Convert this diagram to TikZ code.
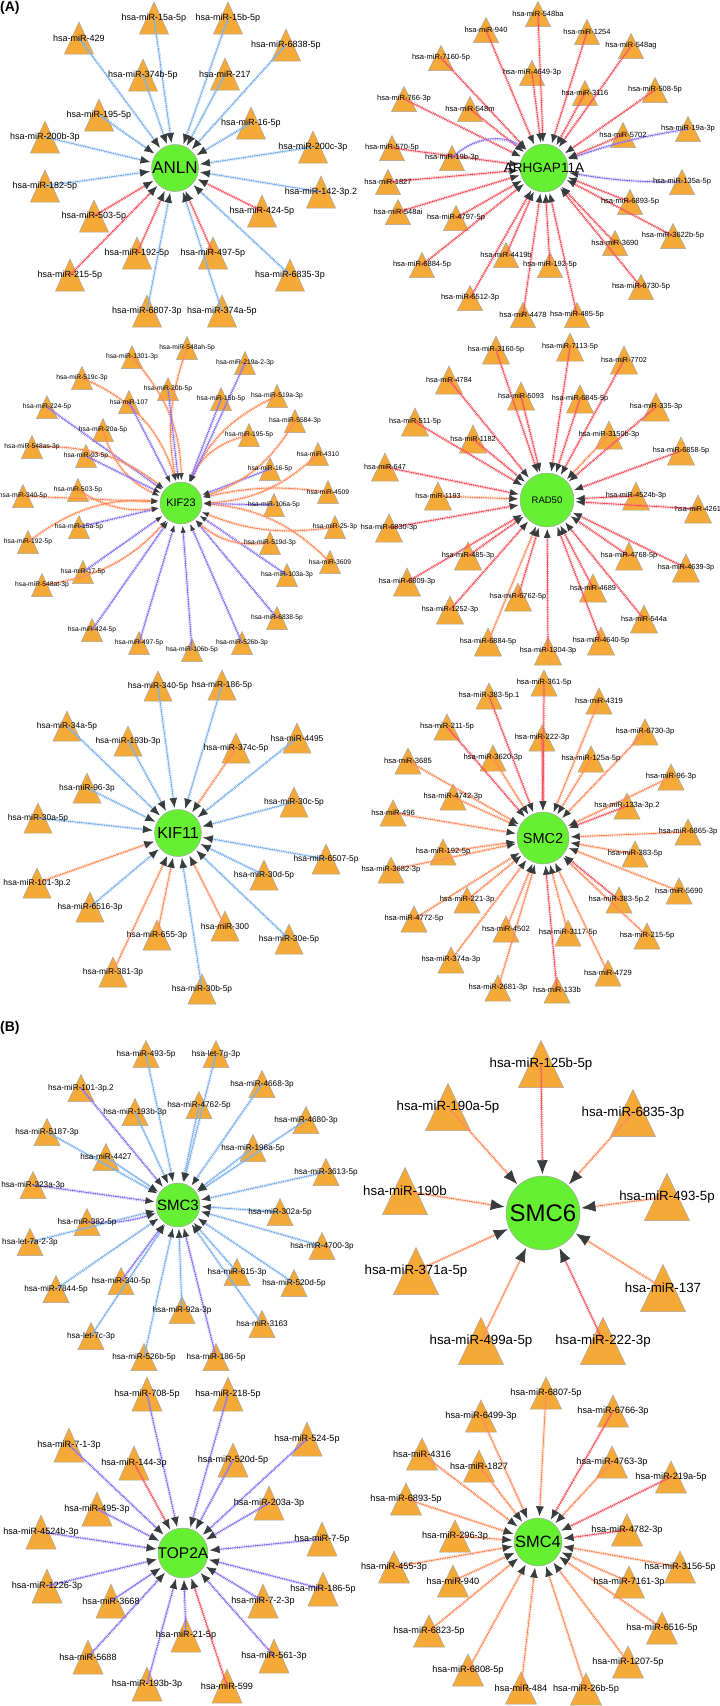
\documentclass[tikz,border=0pt]{standalone}
\usepackage{fontspec}
\setmainfont{Liberation Sans}
\usepackage{tikz}
\usepackage{xcolor}
\usetikzlibrary{arrows.meta}

\definecolor{mirorange}{RGB}{245,170,55}
\definecolor{mirgray}{RGB}{165,165,165}
\definecolor{hubgreen}{RGB}{102,240,51}
\definecolor{arrowgray}{RGB}{55,60,62}
\definecolor{ebl}{RGB}{120,175,235}
\definecolor{erd}{RGB}{245,80,90}
\definecolor{eor}{RGB}{255,135,85}
\definecolor{epu}{RGB}{135,110,245}
\tikzset{>=latex}

% triangle width, triangle height, label size, arrow length, arrow width
\newcommand{\netsize}[5]{\def\triw{#1}\def\trih{#2}\def\labsize{#3}\def\arrl{#4}\def\arrw{#5}}
% #1 hub name, #2 list x/y/colour/bend/label
\newcommand{\mirnet}[2]{%
  \foreach \x/\y/\col/\bnd/\lab [count=\idx] in {#2}{
    \coordinate (#1-\idx) at (\x,\y);
    \filldraw[mirtri] (\x,\y-\trih/2) -- (\x+\triw/2,\y+\trih/2)
      -- (\x-\triw/2,\y+\trih/2) -- cycle;
  }
  \foreach \x/\y/\col/\bnd/\lab [count=\idx] in {#2}{
    \draw[mirarrow=\col] (#1-\idx) to[bend left=\bnd] (#1);
  }
  \foreach \x/\y/\col/\bnd/\lab [count=\idx] in {#2}{
    \node[mirlab] (#1-l\idx) at (#1-\idx) {hsa-\lab};
  }
}

\begin{document}
\begin{tikzpicture}[x=1pt, y=-1pt,
    mirtri/.style={fill=mirorange, draw=mirgray, line width=0.5pt},
    mirlab/.style={inner sep=0pt, font=\fontsize{\labsize}{\labsize}\selectfont},
    hub/.style={circle, fill=hubgreen, draw=mirgray, line width=0.5pt, inner sep=0pt},
    hubtext/.style={inner sep=0pt},
    mirarrow/.style={draw=#1, line width=0.75pt,
      -{Latex[length=\arrl, width=\arrw, color=arrowgray]}, shorten >=1.5pt,
      preaction={draw=#1!85, -, line width=3pt, dash pattern=on 0.5pt off 1.3pt, shorten >=6pt}},
    tag/.style={anchor=north west, inner sep=0pt, font=\bfseries\fontsize{14}{14}\selectfont}]
  \fill[white] (0,0) rectangle (720,1706);
  \useasboundingbox (0,0) rectangle (720,1706);

  \node[tag] (taga) at (0,1) {(A)};
  \node[tag] (tagb) at (0,1021) {(B)};

  % ANLN
  \netsize{29}{32}{9}{10pt}{8pt}
  \node[hub, minimum size=47pt] (anln) at (175,168) {};
  \mirnet{anln}{154/18/ebl/0/miR-15a-5p, 228/18/ebl/0/miR-15b-5p, 79/38/ebl/0/miR-429,
    286/45/ebl/0/miR-6838-5p, 143/75/ebl/0/miR-374b-5p, 225/74/ebl/0/miR-217,
    99/115/ebl/0/miR-195-5p, 251/123/ebl/0/miR-16-5p, 45/137/ebl/0/miR-200b-3p,
    313/147/ebl/0/miR-200c-3p, 45/186/ebl/0/miR-182-5p, 321/192/ebl/0/miR-142-3p.2,
    94/216/erd/0/miR-503-5p, 262/211/erd/0/miR-424-5p, 137/253/erd/0/miR-192-5p,
    213/253/erd/0/miR-497-5p, 70/275/erd/0/miR-215-5p, 290/275/ebl/0/miR-6835-3p,
    147/311/ebl/0/miR-6807-3p, 222/311/ebl/0/miR-374a-5p}
  \node[hubtext, font=\fontsize{17}{17}\selectfont] (anln-t) at (anln) {ANLN};

  % ARHGAP11A
  \netsize{25}{25}{7.5}{9pt}{7pt}
  \node[hub, minimum size=48pt] (arh) at (544,168) {};
  \mirnet{arh}{538/14/erd/0/miR-548ba, 486/30/erd/0/miR-940, 587/32/erd/0/miR-1254,
    631/46/erd/0/miR-548ag, 441/58/erd/0/miR-7160-5p, 532/73/erd/0/miR-4649-3p,
    585/93/erd/0/miR-3116, 655/90/erd/0/miR-508-5p, 404/99/erd/0/miR-766-3p,
    470/109/erd/0/miR-548m, 688/129/epu/-5/miR-19a-3p, 623/135/erd/0/miR-5702,
    392/148/erd/0/miR-570-5p, 452/158/epu/40/miR-19b-3p, 388/182/erd/0/miR-1827,
    682/182/epu/5/miR-135a-5p, 630/202/erd/0/miR-6893-5p, 398/212/erd/0/miR-548ai,
    456/218/erd/0/miR-4797-5p, 673/236/erd/0/miR-3622b-5p, 615/243/erd/0/miR-3690,
    506/255/erd/0/miR-4419b, 550/265/erd/0/miR-192-5p, 422/265/erd/0/miR-6884-5p,
    641/287/erd/0/miR-6730-5p, 470/298/erd/0/miR-6512-3p, 523/315/erd/0/miR-4478,
    577/315/erd/0/miR-485-5p}
  \node[hubtext, font=\fontsize{13.5}{13.5}\selectfont] (arh-t) at (arh) {ARHGAP11A};

  % KIF23
  \netsize{21}{23}{6.7}{7pt}{5pt}
  \node[hub, minimum size=42pt] (kif23) at (181,503) {};
  \mirnet{kif23}{132/357/eor/20/miR-1301-3p, 187/348/eor/-15/miR-548ah-5p,
    82/378/eor/25/miR-519c-3p, 168/389/epu/0/miR-20b-5p, 129/402/epu/0/miR-107,
    47/407/epu/0/miR-224-5p, 103/430/eor/-25/miR-20a-5p, 32/447/eor/20/miR-548as-3p,
    86/456/epu/0/miR-93-5p, 78/490/eor/-20/miR-503-5p, 23/496/eor/0/miR-340-5p,
    79/527/epu/0/miR-15a-5p, 28/542/eor/20/miR-192-5p, 83/572/epu/0/miR-17-5p,
    42/585/eor/-20/miR-548at-3p, 92/630/epu/0/miR-424-5p, 139/643/epu/0/miR-497-5p,
    192/650/epu/0/miR-106b-5p, 242/643/epu/0/miR-526b-3p, 277/618/epu/0/miR-6838-5p,
    287/575/epu/0/miR-103a-3p, 330/562/eor/-20/miR-3609, 270/543/eor/25/miR-519d-3p,
    335/527/eor/15/miR-25-3p, 274/505/epu/0/miR-106a-5p, 328/492/eor/-10/miR-4509,
    270/469/epu/0/miR-16-5p, 318/454/eor/20/miR-4310, 249/435/eor/-25/miR-195-5p,
    295/421/eor/20/miR-5584-3p, 277/396/eor/-20/miR-519a-3p, 221/399/epu/0/miR-15b-5p,
    245/363/epu/0/miR-219a-2-3p}
  \node[hubtext, font=\fontsize{11}{11}\selectfont] (kif23-t) at (kif23) {KIF23};

  % RAD50
  \netsize{27}{28}{7.3}{9pt}{7pt}
  \node[hub, minimum size=54pt] (rad50) at (547,500) {};
  \mirnet{rad50}{496/350/erd/0/miR-3160-5p, 570/347/erd/0/miR-7113-5p,
    624/360/erd/0/miR-7702, 449/380/erd/0/miR-4784, 521/396/erd/0/miR-5093,
    580/399/erd/0/miR-6845-5p, 656/407/erd/0/miR-335-3p, 415/422/erd/0/miR-511-5p,
    473/439/erd/0/miR-1182, 609/435/eor/0/miR-3150b-3p, 681/451/erd/0/miR-6858-5p,
    385/467/erd/0/miR-647, 438/496/eor/0/miR-1193, 636/496/erd/0/miR-4524b-3p,
    698/509/erd/0/miR-4261, 389/528/erd/0/miR-6830-3p, 468/556/erd/0/miR-485-3p,
    629/556/erd/0/miR-4768-5p, 686/568/erd/0/miR-4639-3p, 407/582/erd/0/miR-6809-3p,
    593/588/erd/0/miR-4689, 518/597/erd/0/miR-6762-5p, 450/610/erd/0/miR-1252-3p,
    644/619/erd/0/miR-544a, 488/642/eor/0/miR-6884-5p, 601/641/erd/0/miR-4640-5p,
    548/651/erd/0/miR-1304-3p}
  \node[hubtext, font=\fontsize{9.5}{9.5}\selectfont] (rad50-t) at (rad50) {RAD50};

  % KIF11
  \netsize{28}{30}{8.4}{10pt}{8pt}
  \node[hub, minimum size=47pt] (kif11) at (178,833) {};
  \mirnet{kif11}{158/686/ebl/0/miR-340-5p, 222/685/ebl/0/miR-186-5p,
    67/726/ebl/0/miR-34a-5p, 128/741/ebl/0/miR-193b-3p, 236/748/eor/0/miR-374c-5p,
    297/738/ebl/0/miR-4495, 87/788/ebl/0/miR-96-3p, 294/802/ebl/0/miR-30c-5p,
    38/818/ebl/0/miR-30a-5p, 326/859/ebl/0/miR-6507-5p, 37/883/eor/0/miR-101-3p.2,
    264/875/ebl/0/miR-30d-5p, 90/907/ebl/0/miR-6516-3p, 157/935/eor/0/miR-655-3p,
    225/926/eor/0/miR-300, 289/939/ebl/0/miR-30e-5p, 113/972/eor/0/miR-381-3p,
    202/989/ebl/0/miR-30b-5p}
  \node[hubtext, font=\fontsize{16}{16}\selectfont] (kif11-t) at (kif11) {KIF11};

  % SMC2
  \netsize{26}{26}{7.6}{9pt}{7pt}
  \node[hub, minimum size=52pt] (smc2) at (543,838) {};
  \mirnet{smc2}{544/683/erd/0/miR-361-5p, 489/696/erd/0/miR-383-5p.1,
    599/701/eor/0/miR-4319, 447/727/erd/0/miR-211-5p, 542/738/erd/0/miR-222-3p,
    645/732/eor/0/miR-6730-3p, 408/761/eor/0/miR-3685, 493/758/eor/0/miR-3620-3p,
    591/759/eor/0/miR-125a-5p, 671/777/eor/0/miR-96-3p, 453/797/eor/0/miR-4742-3p,
    627/806/erd/0/miR-133a-3p.2, 393/813/eor/0/miR-496, 688/832/eor/0/miR-6865-3p,
    443/852/eor/0/miR-192-5p, 635/854/eor/0/miR-383-5p, 391/870/eor/0/miR-3682-3p,
    679/891/eor/0/miR-5690, 467/900/eor/0/miR-221-3p, 619/900/erd/0/miR-383-5p.2,
    414/919/eor/0/miR-4772-5p, 506/929/eor/0/miR-4502, 568/933/eor/0/miR-3117-5p,
    647/936/eor/0/miR-215-5p, 451/960/eor/0/miR-374a-3p, 608/973/eor/0/miR-4729,
    498/988/eor/0/miR-2681-3p, 557/990/erd/0/miR-133b}
  \node[hubtext, font=\fontsize{14.5}{14.5}\selectfont] (smc2-t) at (smc2) {SMC2};

  % SMC3
  \netsize{26}{27}{8.2}{9pt}{7pt}
  \node[hub, minimum size=44pt] (smc3) at (178,1205) {};
  \mirnet{smc3}{146/1054/ebl/0/miR-493-5p, 216/1054/ebl/0/let-7g-3p,
    81/1088/epu/0/miR-101-3p.2, 262/1084/ebl/0/miR-4668-3p, 135/1112/ebl/0/miR-193b-3p,
    199/1105/ebl/0/miR-4762-5p, 306/1120/ebl/0/miR-4680-3p, 47/1132/ebl/0/miR-5187-3p,
    253/1148/ebl/0/miR-196a-5p, 106/1157/ebl/0/miR-4427, 326/1172/ebl/0/miR-3613-5p,
    33/1185/epu/0/miR-323a-3p, 280/1212/ebl/0/miR-302a-5p, 87/1222/epu/-10/miR-382-5p,
    30/1242/ebl/0/let-7a-2-3p, 322/1246/ebl/0/miR-4700-3p, 237/1272/ebl/0/miR-615-3p,
    121/1281/epu/0/miR-340-5p, 294/1283/ebl/0/miR-520d-5p, 56/1289/ebl/0/miR-7844-5p,
    182/1310/ebl/0/miR-92a-3p, 262/1324/ebl/0/miR-3163, 91/1336/ebl/0/let-7c-3p,
    144/1357/ebl/0/miR-526b-5p, 216/1357/epu/0/miR-186-5p}
  \node[hubtext, font=\fontsize{15}{15}\selectfont] (smc3-t) at (smc3) {SMC3};

  % SMC6
  \netsize{45}{47}{13.3}{14pt}{11pt}
  \node[hub, minimum size=74pt] (smc6) at (543,1213) {};
  \mirnet{smc6}{541/1064/erd/0/miR-125b-5p, 448/1107/eor/0/miR-190a-5p,
    633/1113/eor/0/miR-6835-3p, 405/1191/eor/0/miR-190b, 667/1197/eor/0/miR-493-5p,
    416/1271/eor/0/miR-371a-5p, 663/1288/eor/0/miR-137, 481/1341/eor/0/miR-499a-5p,
    603/1341/erd/0/miR-222-3p}
  \node[hubtext, font=\fontsize{24}{24}\selectfont] (smc6-t) at (smc6) {SMC6};

  % TOP2A
  \netsize{30}{34}{9.1}{10pt}{8pt}
  \node[hub, minimum size=50pt] (top2a) at (183,1553) {};
  \mirnet{top2a}{147/1394/epu/0/miR-708-5p, 228/1394/epu/0/miR-218-5p,
    69/1445/epu/0/miR-7-1-3p, 307/1439/epu/0/miR-524-5p, 134/1463/erd/0/miR-144-3p,
    233/1460/epu/0/miR-520d-5p, 97/1509/epu/0/miR-495-3p, 269/1503/epu/0/miR-203a-3p,
    41/1532/epu/0/miR-4524b-3p, 322/1539/epu/0/miR-7-5p, 47/1586/epu/0/miR-1226-3p,
    323/1589/epu/0/miR-186-5p, 111/1601/epu/0/miR-3668, 263/1601/epu/0/miR-7-2-3p,
    186/1635/epu/0/miR-21-5p, 88/1657/epu/0/miR-5688, 274/1656/epu/0/miR-561-3p,
    147/1684/epu/0/miR-193b-3p, 227/1686/erd/0/miR-599}
  \node[hubtext, font=\fontsize{15.5}{15.5}\selectfont] (top2a-t) at (top2a) {TOP2A};

  % SMC4
  \netsize{31}{32}{9.2}{10pt}{8pt}
  \node[hub, minimum size=48pt] (smc4) at (538,1542) {};
  \mirnet{smc4}{546/1393/eor/0/miR-6807-5p, 613/1411/erd/0/miR-6766-3p,
    481/1416/eor/0/miR-6499-3p, 422/1454/eor/0/miR-4316, 479/1466/eor/0/miR-1827,
    612/1462/eor/0/miR-4763-3p, 671/1477/erd/0/miR-219a-5p, 406/1499/eor/0/miR-6893-5p,
    627/1530/erd/0/miR-4782-3p, 455/1536/eor/0/miR-296-3p, 394/1567/eor/0/miR-455-3p,
    680/1567/eor/0/miR-3156-5p, 453/1581/eor/0/miR-940, 629/1582/eor/0/miR-7161-3p,
    662/1628/eor/0/miR-6516-5p, 429/1631/eor/0/miR-6823-5p, 628/1662/eor/0/miR-1207-5p,
    468/1670/eor/0/miR-6808-5p, 521/1688/eor/0/miR-484, 586/1689/eor/0/miR-26b-5p}
  \node[hubtext, font=\fontsize{16.4}{16.4}\selectfont] (smc4-t) at (smc4) {SMC4};
\end{tikzpicture}
\end{document}
